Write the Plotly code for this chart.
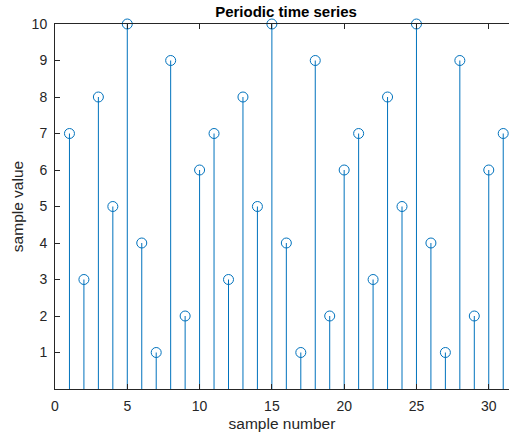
import plotly.graph_objects as go

sample_number = list(range(1, 32))
sample_value = [7, 3, 8, 5, 10, 4, 1, 9, 2, 6,
                7, 3, 8, 5, 10, 4, 1, 9, 2, 6,
                7, 3, 8, 5, 10, 4, 1, 9, 2, 6, 7]
x_ticks = [0, 5, 10, 15, 20, 25, 30]
y_ticks = [1, 2, 3, 4, 5, 6, 7, 8, 9, 10]

blue = "#0072BD"
axis_col = "#262626"

stem_x, stem_y = [], []
for n, v in zip(sample_number, sample_value):
    stem_x += [n, n, None]
    stem_y += [0, v, None]

fig = go.Figure()
fig.add_trace(go.Scatter(x=stem_x, y=stem_y, mode="lines",
                         line=dict(color=blue, width=1), hoverinfo="skip",
                         showlegend=False))
fig.add_trace(go.Scatter(x=sample_number, y=sample_value, mode="markers",
                         marker=dict(symbol="circle-open", size=10,
                                     color=blue, line=dict(width=1, color=blue)),
                         showlegend=False, cliponaxis=False))

font = "Liberation Sans, Arial, sans-serif"
fig.update_layout(
    width=509, height=436,
    margin=dict(l=55, r=0, t=24, b=47),
    paper_bgcolor="white", plot_bgcolor="white",
    font=dict(family=font, size=13, color=axis_col),
    title=dict(text="<b>Periodic time series</b>", x=286 / 509, xanchor="center",
               y=1 - 12 / 436, yanchor="middle", font=dict(size=15, color="black")),
    xaxis=dict(range=[0, 31.4], tickvals=x_ticks, ticks="inside", ticklen=5,
               tickcolor=axis_col, showline=True, linecolor=axis_col, linewidth=1,
               mirror="ticks", showgrid=False, zeroline=False,
               tickfont=dict(size=14), ticklabelstandoff=4,
               title=dict(text="sample number", font=dict(size=15.5), standoff=5)),
    yaxis=dict(range=[0, 10], tickvals=y_ticks, ticks="inside", ticklen=5,
               tickcolor=axis_col, showline=True, linecolor=axis_col, linewidth=1,
               showgrid=False, zeroline=False, tickfont=dict(size=14),
               ticklabelstandoff=4,
               title=dict(text="sample value", font=dict(size=15.5), standoff=4)),
)
fig.write_html("out.html")
